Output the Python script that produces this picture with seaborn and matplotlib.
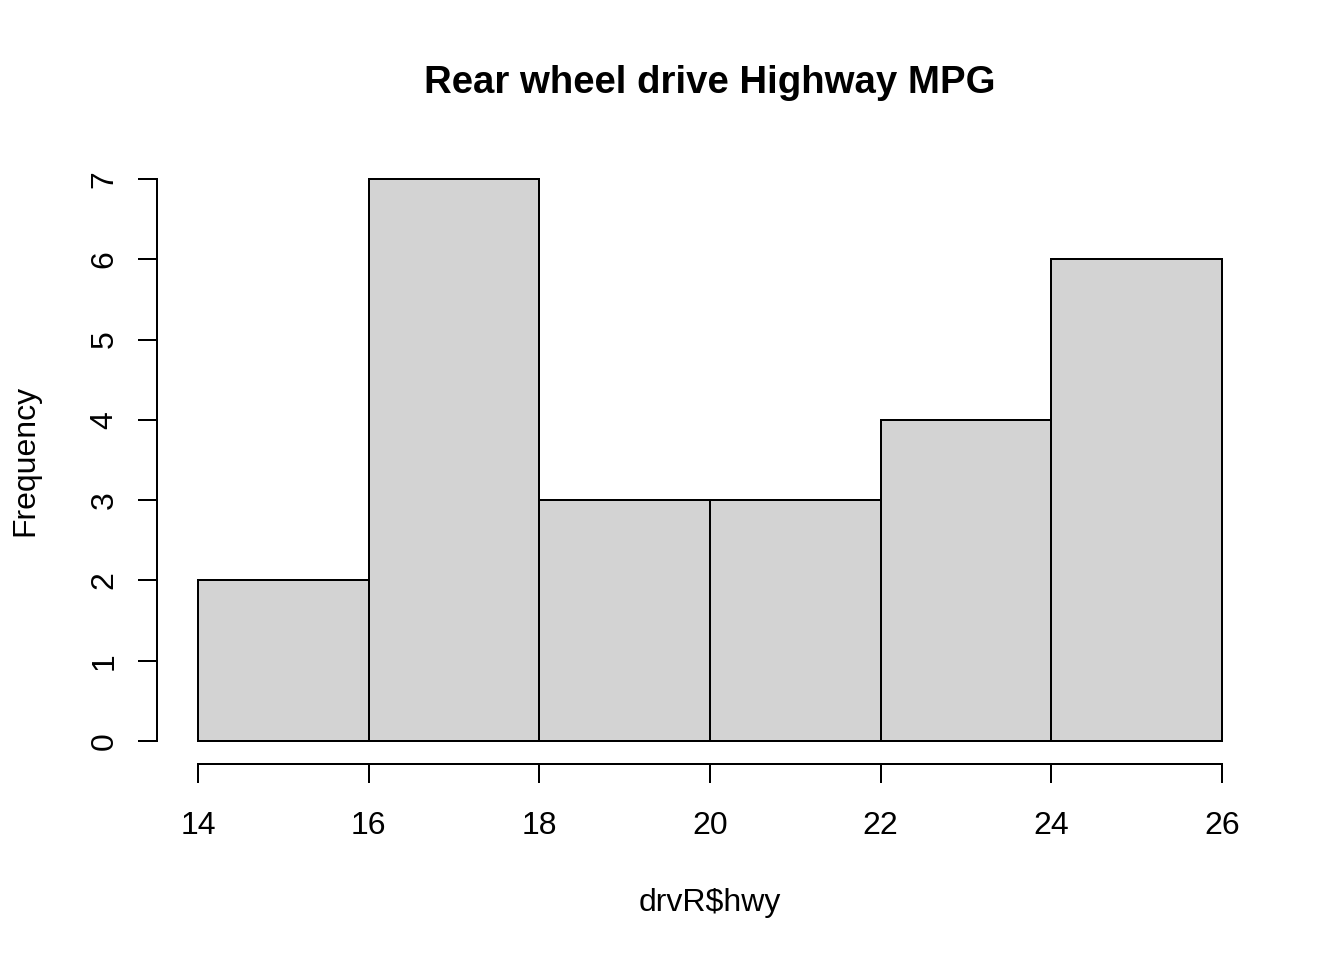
import numpy as np
import matplotlib
matplotlib.use("Agg")
import matplotlib.pyplot as plt
import seaborn as sns

# histogram of rear wheel drive highway mpg
bin_edges = [14, 16, 18, 20, 22, 24, 26]
bin_counts = [2, 7, 3, 3, 4, 6]
y_ticks = [0, 1, 2, 3, 4, 5, 6, 7]

sns.set_style("white")
plt.rcParams["font.family"] = ["Liberation Sans", "DejaVu Sans"]
plt.rcParams["text.color"] = "black"
plt.rcParams["axes.labelcolor"] = "black"

W, H = 1344, 960
fig = plt.figure(figsize=(7, 5), dpi=192)
# plot region in pixels (R style 4% padding)
left, right, top, bottom = 157, 1263, 156.5, 763.5
ax = fig.add_axes([left / W, 1 - bottom / H, (right - left) / W, (bottom - top) / H])

mids = [(a + b) / 2 for a, b in zip(bin_edges[:-1], bin_edges[1:])]
sns.histplot(x=mids, weights=bin_counts, bins=bin_edges, ax=ax,
             color="#D3D3D3", edgecolor="black", linewidth=0.75, alpha=1)

ax.set_xlim(13.52, 26.48)
ax.set_ylim(-0.28, 7.28)
ax.set_xticks(bin_edges)
ax.set_yticks(y_ticks)
ax.set_yticklabels([str(v) for v in y_ticks], rotation=90, va="center")

for s in ["top", "right"]:
    ax.spines[s].set_visible(False)
for s in ["left", "bottom"]:
    ax.spines[s].set_linewidth(0.75)
    ax.spines[s].set_color("black")
ax.spines["left"].set_bounds(0, 7)
ax.spines["bottom"].set_bounds(14, 26)

ax.tick_params(axis="both", direction="out", length=7.1, width=0.75,
               color="black", labelsize=12, labelcolor="black")
ax.tick_params(axis="x", pad=10.8)
ax.tick_params(axis="y", pad=7)
ax.tick_params(left=True, bottom=True)

ax.set_xlabel("drvR$hwy", fontsize=12, va="center")
ax.set_ylabel("Frequency", fontsize=12, va="center", ha="center")
ax.xaxis.set_label_coords(0.5, -(903 - bottom) / (bottom - top))
ax.yaxis.set_label_coords(-(left - 25) / (right - left), 0.5)

fig.text(710 / W, 1 - 83 / H, "Rear wheel drive Highway MPG",
         fontsize=14.4, fontweight="bold", ha="center", va="center")

fig.savefig("out.png", dpi=192)
